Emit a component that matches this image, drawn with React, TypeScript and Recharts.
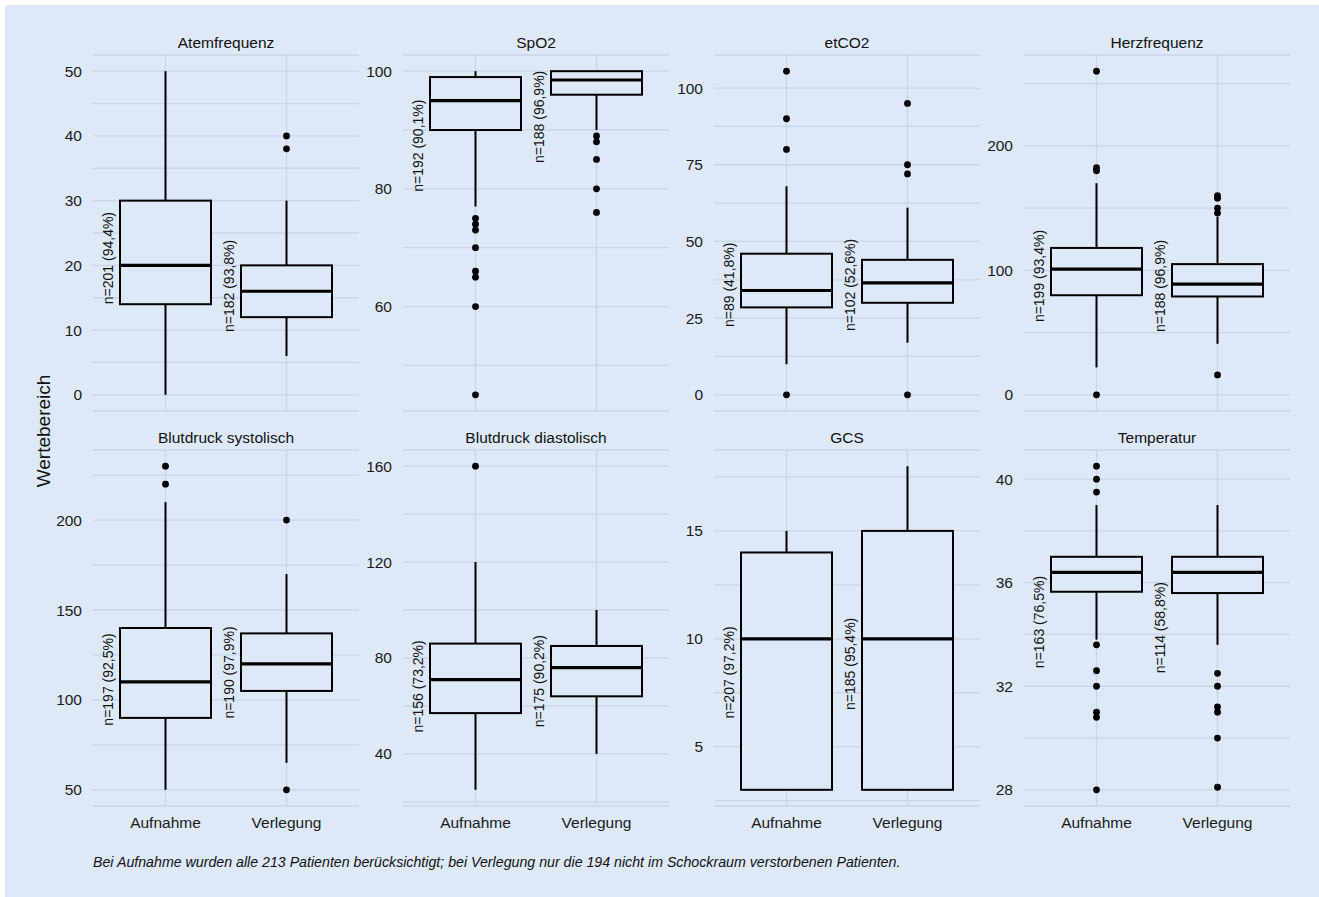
import React from "react";
import {
  ComposedChart,
  Bar,
  Scatter,
  XAxis,
  YAxis,
  CartesianGrid,
  ReferenceLine,
} from "recharts";

const categories = ["Aufnahme", "Verlegung"];

const titles = [
  "Atemfrequenz",
  "SpO2",
  "etCO2",
  "Herzfrequenz",
  "Blutdruck systolisch",
  "Blutdruck diastolisch",
  "GCS",
  "Temperatur",
];

// five-number summaries per panel, [Aufnahme, Verlegung]
const lowerWhisker = [[0, 6], [77, 90], [10, 17], [22, 41], [50, 65], [25, 40], [3, 3], [33.8, 33.6]];
const lowerQuartile = [[14, 12], [90, 96], [28.5, 30], [80, 79], [90, 105], [57, 64], [3, 3], [35.65, 35.6]];
const medians = [[20, 16], [95, 98.5], [34, 36.5], [101, 89], [110, 120], [71, 76], [10, 10], [36.4, 36.4]];
const upperQuartile = [[30, 20], [99, 100], [46, 44], [118, 105], [140, 137], [86, 85], [14, 15], [37, 37]];
const upperWhisker = [[50, 30], [100, 100], [68, 61], [170, 143], [210, 170], [120, 100], [15, 18], [39, 39]];

const outliersAufnahme = [
  [],
  [75, 74, 73, 70, 66, 65, 60, 45],
  [105.5, 90, 80, 0],
  [260, 182.5, 180, 0],
  [230, 220],
  [160],
  [],
  [40.5, 40, 39.5, 33.6, 32.6, 32, 31, 30.8, 28],
];
const outliersVerlegung = [
  [40, 38],
  [89, 88, 85, 80, 76],
  [95, 75, 72, 0],
  [160, 158, 150, 146, 16],
  [200, 50],
  [],
  [],
  [32.5, 32, 31.2, 31, 30, 28.1],
];

const nLabels = [
  ["n=201 (94,4%)", "n=182 (93,8%)"],
  ["n=192 (90,1%)", "n=188 (96,9%)"],
  ["n=89 (41,8%)", "n=102 (52,6%)"],
  ["n=199 (93,4%)", "n=188 (96,9%)"],
  ["n=197 (92,5%)", "n=190 (97,9%)"],
  ["n=156 (73,2%)", "n=175 (90,2%)"],
  ["n=207 (97,2%)", "n=185 (95,4%)"],
  ["n=163 (76,5%)", "n=114 (58,8%)"],
];
// value where each n label starts
const nLabelAt = [[14, 9.7], [79.5, 84.4], [22.1, 20.8], [58.4, 50.4], [85.7, 89.6], [48.9, 51.1], [6.3, 6.7], [32.7, 32.5]];

const majorTicks = [
  [0, 10, 20, 30, 40, 50],
  [60, 80, 100],
  [0, 25, 50, 75, 100],
  [0, 100, 200],
  [50, 100, 150, 200],
  [40, 80, 120, 160],
  [5, 10, 15],
  [28, 32, 36, 40],
];
const minorTicks = [
  [5, 15, 25, 35, 45],
  [50, 70, 90],
  [12.5, 37.5, 62.5, 87.5],
  [50, 150, 250],
  [75, 125, 175, 225],
  [20, 60, 100, 140],
  [2.5, 7.5, 12.5, 17.5],
  [30, 34, 38],
];

const caption =
  "Bei Aufnahme wurden alle 213 Patienten berücksichtigt; bei Verlegung nur die 194 nicht im Schockraum verstorbenen Patienten.";

const BG = "#dde9f6";
const GRID = "#c8d6e5";
const FONT = '"Liberation Sans", Arial, Helvetica, sans-serif';

const PLOT_LEFT = [93, 403, 714, 1024];
const PLOT_TOP = [55, 450];
const PLOT_W = 266;
const PLOT_H = 356;
const AXIS_W = 70;
const TOP_M = 30;
const XAXIS_H = 45;

const BoxShape = (props: any) => {
  const { x, y, width, height, payload } = props;
  const { lo, q1, med, q3, hi, label, labelAt } = payload;
  const k = height / (hi - lo);
  const py = (v: number) => y + (hi - v) * k;
  const cx = x + width / 2;
  return (
    <g>
      <line x1={cx} x2={cx} y1={py(hi)} y2={py(q3)} stroke="#000" strokeWidth={2} />
      <line x1={cx} x2={cx} y1={py(q1)} y2={py(lo)} stroke="#000" strokeWidth={2} />
      <rect
        x={x}
        y={py(q3)}
        width={width}
        height={py(q1) - py(q3)}
        fill={BG}
        stroke="#000"
        strokeWidth={2}
      />
      <line x1={x} x2={x + width} y1={py(med)} y2={py(med)} stroke="#000" strokeWidth={3.2} />
      <text
        transform={`translate(${x - 12},${py(labelAt)}) rotate(-90)`}
        fontSize={14}
        fontFamily={FONT}
        fill="#111"
        dominantBaseline="central"
      >
        {label}
      </text>
    </g>
  );
};

const OutlierDot = (props: any) => {
  const { cx, cy } = props;
  return <circle cx={cx} cy={cy} r={3.4} fill="#000" />;
};

const tickStyle = { fontSize: 15.5, fill: "#1a1a1a", fontFamily: FONT };

const Panel = ({ index }: { index: number }) => {
  const col = index % 4;
  const row = Math.floor(index / 4);
  const rows = categories.map((cat, i) => ({
    cat,
    range: [lowerWhisker[index][i], upperWhisker[index][i]],
    lo: lowerWhisker[index][i],
    q1: lowerQuartile[index][i],
    med: medians[index][i],
    q3: upperQuartile[index][i],
    hi: upperWhisker[index][i],
    label: nLabels[index][i],
    labelAt: nLabelAt[index][i],
  }));
  const points = [
    ...outliersAufnahme[index].map((v) => ({ cat: categories[0], v })),
    ...outliersVerlegung[index].map((v) => ({ cat: categories[1], v })),
  ];
  const all = [
    ...lowerWhisker[index],
    ...upperWhisker[index],
    ...outliersAufnahme[index],
    ...outliersVerlegung[index],
  ];
  const min = Math.min(...all);
  const max = Math.max(...all);
  const pad = (max - min) * 0.05;
  const domain = [min - pad, max + pad];
  const majors = majorTicks[index];
  const ticks = [...majors, ...minorTicks[index]]
    .filter((t) => t >= domain[0] && t <= domain[1])
    .sort((a, b) => a - b);

  const w = AXIS_W + PLOT_W;
  const h = TOP_M + PLOT_H + XAXIS_H;
  const margin = { top: TOP_M, right: 0, bottom: 0, left: 0 };

  // shared axes; the back layer shows ticks, the front layer only reuses the geometry
  const axes = (showTicks: boolean) => [
    <XAxis
      key="x"
      dataKey="cat"
      type="category"
      scale="band"
      allowDuplicatedCategory={false}
      axisLine={false}
      tickLine={false}
      padding={{ left: 12, right: 12 }}
      height={XAXIS_H}
      interval={0}
      tickMargin={5}
      tick={showTicks && row === 1 ? tickStyle : false}
    />,
    <YAxis
      key="y"
      type="number"
      domain={domain}
      ticks={ticks}
      interval={0}
      allowDataOverflow
      axisLine={false}
      tickLine={false}
      width={AXIS_W}
      tickMargin={5}
      tickFormatter={(v: number) => (majors.includes(v) ? String(v) : "")}
      tick={showTicks ? tickStyle : false}
    />,
  ];

  return (
    <div
      style={{
        position: "absolute",
        left: PLOT_LEFT[col] - AXIS_W,
        top: PLOT_TOP[row] - TOP_M,
        width: w,
        height: h,
      }}
    >
      <div
        style={{
          position: "absolute",
          left: AXIS_W,
          width: PLOT_W,
          top: TOP_M - 12.5 - 9,
          height: 18,
          lineHeight: "18px",
          textAlign: "center",
          fontSize: 15.5,
          fontFamily: FONT,
          color: "#111",
        }}
      >
        {titles[index]}
      </div>
      <div style={{ position: "absolute", left: 0, top: 0 }}>
        <ComposedChart width={w} height={h} data={rows} margin={margin}>
          <CartesianGrid vertical={false} stroke={GRID} strokeWidth={1.3} />
          {axes(true)}
          {categories.map((c) => (
            <ReferenceLine key={c} x={c} stroke={GRID} strokeWidth={1.3} />
          ))}
        </ComposedChart>
      </div>
      <div style={{ position: "absolute", left: 0, top: 0 }}>
        <ComposedChart width={w} height={h} data={rows} margin={margin}>
          {axes(false)}
          <Bar dataKey="range" barSize={91} shape={<BoxShape />} isAnimationActive={false} />
          <Scatter data={points} dataKey="v" shape={<OutlierDot />} isAnimationActive={false} />
        </ComposedChart>
      </div>
    </div>
  );
};

export default function App() {
  return (
    <div
      style={{
        position: "absolute",
        left: 0,
        top: 0,
        width: 1319,
        height: 897,
        background: "#fff",
        overflow: "hidden",
      }}
    >
      <div
        style={{
          position: "absolute",
          left: 5,
          top: 5,
          width: 1314,
          height: 892,
          background: BG,
        }}
      />
      {titles.map((t, i) => (
        <Panel key={t} index={i} />
      ))}
      <svg
        width={1319}
        height={897}
        style={{ position: "absolute", left: 0, top: 0, pointerEvents: "none" }}
      >
        <text
          transform="translate(43,431) rotate(-90)"
          textAnchor="middle"
          dominantBaseline="central"
          fontSize={19}
          fontFamily={FONT}
          fill="#111"
        >
          Wertebereich
        </text>
        <text x={93} y={867} fontSize={14.2} fontStyle="italic" fontFamily={FONT} fill="#111">
          {caption}
        </text>
      </svg>
    </div>
  );
}
